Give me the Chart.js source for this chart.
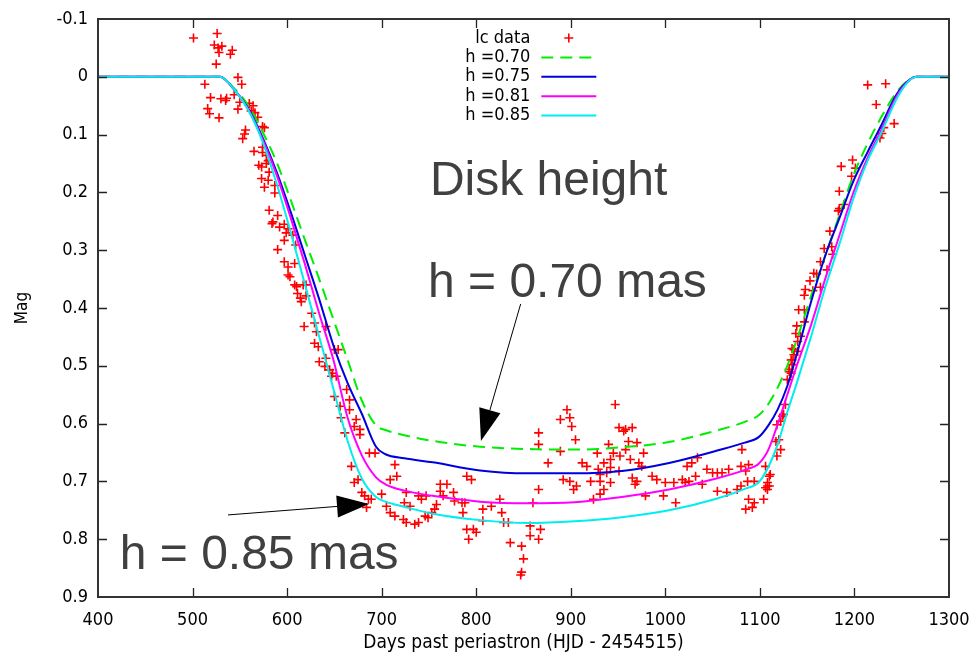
<!DOCTYPE html>
<html>
<head>
<meta charset="utf-8">
<script src="https://cdn.jsdelivr.net/npm/chart.js@4/dist/chart.umd.min.js"></script>
<style>
  html, body { margin: 0; padding: 0; background: #fff; }
</style>
</head>
<body>
<canvas id="chart" width="976" height="658"></canvas>
<script>
// model light curves, one shared day grid
const modelDays = [400, 529, 544, 559, 574, 589, 604, 619, 634, 649, 664, 679, 694, 704, 724, 754, 804, 854, 904, 954,
  1004, 1054, 1084, 1099, 1109, 1119, 1129, 1139, 1154, 1169, 1184, 1199, 1214, 1229, 1244, 1256, 1266, 1300];
const magH070 = [0, 0, 0.02, 0.05, 0.095, 0.148, 0.214, 0.283, 0.35, 0.42, 0.49, 0.56, 0.603, 0.611, 0.62, 0.63, 0.64, 0.644, 0.645, 0.641,
  0.632, 0.612, 0.597, 0.585, 0.566, 0.537, 0.5, 0.455, 0.38, 0.31, 0.24, 0.17, 0.115, 0.068, 0.028, 0.007, 0, 0];
const magH075 = [0, 0, 0.022, 0.055, 0.105, 0.165, 0.235, 0.31, 0.385, 0.465, 0.53, 0.583, 0.64, 0.653, 0.66, 0.667, 0.681, 0.686, 0.686, 0.682,
  0.668, 0.647, 0.633, 0.623, 0.603, 0.575, 0.535, 0.48, 0.39, 0.31, 0.245, 0.18, 0.13, 0.082, 0.032, 0.008, 0, 0];
const magH081 = [0, 0, 0.022, 0.056, 0.108, 0.17, 0.245, 0.325, 0.41, 0.49, 0.59, 0.655, 0.693, 0.705, 0.716, 0.725, 0.735, 0.738, 0.736, 0.727,
  0.714, 0.695, 0.68, 0.669, 0.645, 0.6, 0.55, 0.5, 0.43, 0.35, 0.275, 0.2, 0.14, 0.09, 0.036, 0.009, 0, 0];
const magH085 = [0, 0, 0.022, 0.058, 0.112, 0.185, 0.27, 0.36, 0.45, 0.54, 0.63, 0.695, 0.727, 0.735, 0.744, 0.756, 0.767, 0.772, 0.769, 0.762,
  0.75, 0.73, 0.713, 0.701, 0.675, 0.635, 0.58, 0.53, 0.45, 0.365, 0.29, 0.21, 0.145, 0.095, 0.04, 0.01, 0, 0];

const icDays = [
  501, 526, 523, 527, 531, 528, 542, 540, 525, 548, 552, 513, 519, 530, 535, 536, 516, 518, 528, 544,
  550, 548, 560, 564, 562, 566, 569, 556, 555, 553, 574, 576, 574, 565, 574, 578, 580, 570, 573, 578,
  581, 573, 580, 576, 587, 587, 581, 590, 585, 584, 592, 597, 601, 599, 597, 606, 609, 590, 597, 608,
  601, 601, 603, 608, 610, 617, 620, 611, 614, 620, 615,
  626, 629, 618, 631, 641, 629, 633, 650, 654, 634, 641, 640, 645, 647, 648, 652, 663, 650, 656, 666,
  666, 657, 673, 677, 661, 671, 677, 668, 675, 671, 679, 682, 686, 689, 684, 687, 693, 700, 714, 716,
  709, 705, 709, 714, 723, 726, 735, 739, 746, 749, 753, 724, 730, 726, 739, 742, 747, 762, 769, 762,
  765, 758, 756, 776, 777, 785, 786, 788, 790, 795, 790, 797, 792, 800, 807, 807, 816, 825, 827, 829,
  834, 836, 848, 850, 848, 847, 857, 857, 868, 866, 860, 866, 866, 866, 876, 889, 896, 899, 901, 905,
  889, 892, 899, 906, 903, 912, 917, 921, 924, 928,
  947, 951, 958, 965, 961, 970, 977, 956, 958, 940, 945, 952, 942, 935, 942, 929, 931, 938, 931, 942,
  935, 931, 951, 963, 972, 975, 965, 970, 968, 986, 991, 979, 998, 1011, 1000, 1009, 1018, 1021, 1025, 1023,
  1028, 1034, 1032, 1039, 1044, 1050, 1055, 1060, 1067, 1055, 1065, 1080, 1081, 1080, 1088, 1085, 1087, 1094, 1076, 1088,
  1094, 1085, 1092, 1104, 1106, 1108, 1108,
  1110, 1111, 1108, 1110, 1106, 1118, 1122, 1120, 1117, 1118, 1122, 1124, 1125, 1127, 1129, 1131, 1133, 1134, 1136, 1140,
  1214, 1233, 1223, 1242, 1231, 1229, 1227, 1198, 1201, 1186, 1197, 1184, 1189, 1184, 1183, 1174, 1168, 1176, 1177, 1164,
  1171, 1157, 1160, 1153, 1148, 1147, 1156, 1164, 1141, 1147, 1147, 1139, 1138, 1143, 1140, 1134, 1136, 1133, 1134, 1131
];
const icMags = [
  -0.067, -0.075, -0.055, -0.05, -0.053, -0.042, -0.046, -0.039, -0.022, 0.001, 0.013, 0.013, 0.036, 0.038, 0.041, 0.037, 0.055, 0.064, 0.071, 0.031,
  0.044, 0.056, 0.046, 0.05, 0.059, 0.062, 0.07, 0.092, 0.099, 0.107, 0.086, 0.088, 0.122, 0.129, 0.131, 0.136, 0.145, 0.153, 0.156, 0.15,
  0.165, 0.176, 0.179, 0.191, 0.188, 0.201, 0.231, 0.24, 0.251, 0.254, 0.26, 0.255, 0.263, 0.27, 0.283, 0.274, 0.291, 0.299, 0.32, 0.323,
  0.329, 0.343, 0.346, 0.36, 0.363, 0.36, 0.36, 0.375, 0.383, 0.379, 0.389,
  0.409, 0.426, 0.432, 0.441, 0.432, 0.461, 0.467, 0.472, 0.472, 0.493, 0.487, 0.501, 0.507, 0.518, 0.513, 0.518, 0.541, 0.553, 0.57, 0.559,
  0.576, 0.59, 0.593, 0.61, 0.616, 0.605, 0.619, 0.674, 0.697, 0.702, 0.719, 0.725, 0.731, 0.731, 0.745, 0.651, 0.651, 0.722, 0.671, 0.691,
  0.697, 0.743, 0.754, 0.76, 0.766, 0.771, 0.774, 0.771, 0.76, 0.763, 0.754, 0.737, 0.743, 0.719, 0.725, 0.731, 0.725, 0.705, 0.705, 0.717,
  0.725, 0.74, 0.748, 0.719, 0.734, 0.737, 0.754, 0.737, 0.691, 0.697, 0.783, 0.783, 0.8, 0.788, 0.748, 0.768, 0.743, 0.731, 0.754, 0.771,
  0.771, 0.806, 0.812, 0.834, 0.857, 0.862, 0.777, 0.794, 0.783, 0.8, 0.737, 0.714, 0.616, 0.636, 0.668, 0.593, 0.576, 0.59, 0.605, 0.628,
  0.648, 0.697, 0.7, 0.708, 0.714, 0.668, 0.674, 0.7, 0.731, 0.651,
  0.567, 0.607, 0.61, 0.607, 0.631, 0.633, 0.651, 0.613, 0.645, 0.636, 0.651, 0.656, 0.662, 0.668, 0.676, 0.679, 0.688, 0.685, 0.7, 0.702,
  0.714, 0.722, 0.682, 0.662, 0.668, 0.674, 0.694, 0.7, 0.705, 0.691, 0.697, 0.725, 0.725, 0.737, 0.702, 0.702, 0.697, 0.702, 0.7, 0.674,
  0.668, 0.659, 0.691, 0.705, 0.679, 0.685, 0.685, 0.685, 0.679, 0.717, 0.719, 0.708, 0.645, 0.674, 0.671, 0.682, 0.7, 0.7, 0.714, 0.731,
  0.737, 0.748, 0.745, 0.731, 0.674, 0.708, 0.714,
  0.691, 0.688, 0.702, 0.708, 0.711, 0.656, 0.645, 0.628, 0.631, 0.602, 0.596, 0.587, 0.584, 0.567, 0.524, 0.51, 0.513, 0.49, 0.481, 0.475,
  0.014, 0.012, 0.048, 0.081, 0.088, 0.098, 0.106, 0.144, 0.158, 0.155, 0.172, 0.198, 0.221, 0.228, 0.232, 0.267, 0.297, 0.294, 0.307, 0.32,
  0.334, 0.34, 0.341, 0.353, 0.368, 0.378, 0.37, 0.364, 0.403, 0.403, 0.424, 0.431, 0.444, 0.449, 0.458, 0.47, 0.472, 0.49, 0.498, 0.506
];

const seriesNames = ["lc data", "h =0.70", "h =0.75", "h =0.81", "h =0.85"];
const xTickValues = [400, 500, 600, 700, 800, 900, 1000, 1100, 1200, 1300];
const yTickValues = [-0.1, 0, 0.1, 0.2, 0.3, 0.4, 0.5, 0.6, 0.7, 0.8, 0.9];
const yTickLabels = ["-0.1", "0", "0.1", "0.2", "0.3", "0.4", "0.5", "0.6", "0.7", "0.8", "0.9"];

const GNU_FONT = "'DejaVu Sans Condensed', 'DejaVu Sans', sans-serif";
const lineColors = ["#00ee00", "#0000dd", "#ff00ff", "#00eeee"];

function pts(xs, ys) {
  return xs.map((x, i) => ({ x: x, y: ys[i] }));
}

// inward ticks on all four sides + frame, gnuplot style
const frameTicks = {
  id: "frameTicks",
  afterDatasetsDraw(chart) {
    const { ctx, chartArea: a, scales: { x, y } } = chart;
    const len = 9;
    ctx.save();
    ctx.strokeStyle = "#222";
    ctx.lineWidth = 1.3;
    ctx.beginPath();
    x.ticks.forEach(t => {
      const px = Math.round(x.getPixelForValue(t.value)) + 0.5;
      if (px < a.left + 2 || px > a.right - 2) return;
      ctx.moveTo(px, a.bottom); ctx.lineTo(px, a.bottom - len);
      ctx.moveTo(px, a.top); ctx.lineTo(px, a.top + len);
    });
    y.ticks.forEach(t => {
      const py = Math.round(y.getPixelForValue(t.value)) + 0.5;
      if (py < a.top + 2 || py > a.bottom - 2) return;
      ctx.moveTo(a.left, py); ctx.lineTo(a.left + len, py);
      ctx.moveTo(a.right, py); ctx.lineTo(a.right - len, py);
    });
    ctx.stroke();
    ctx.lineWidth = 2;
    ctx.strokeStyle = "#333";
    ctx.strokeRect(a.left, a.top, a.right - a.left, a.bottom - a.top);
    ctx.restore();
  }
};

// key in the top middle of the plot
const gnuKey = {
  id: "gnuKey",
  afterDraw(chart) {
    const { ctx, chartArea: a } = chart;
    const textRight = a.left + 0.508 * (a.right - a.left);
    const x0 = textRight + 11, x1 = textRight + 66;
    ctx.save();
    ctx.font = "18px " + GNU_FONT;
    ctx.fillStyle = "#000";
    ctx.textAlign = "right";
    ctx.textBaseline = "middle";
    seriesNames.forEach((name, i) => {
      const yy = a.top + 19 + i * 19.4;
      ctx.fillText(name, textRight, yy);
      if (i === 0) {
        ctx.strokeStyle = "#ff0000";
        ctx.lineWidth = 1.6;
        const cx = (x0 + x1) / 2;
        ctx.beginPath();
        ctx.moveTo(cx - 4.5, yy); ctx.lineTo(cx + 4.5, yy);
        ctx.moveTo(cx, yy - 4.5); ctx.lineTo(cx, yy + 4.5);
        ctx.stroke();
      } else {
        ctx.strokeStyle = lineColors[i - 1];
        ctx.lineWidth = 2;
        ctx.setLineDash(i === 1 ? [12, 7] : []);
        ctx.beginPath();
        ctx.moveTo(x0, yy); ctx.lineTo(x1, yy);
        ctx.stroke();
        ctx.setLineDash([]);
      }
    });
    ctx.restore();
  }
};

// slide annotations, anchored in data coordinates
const notes = [
  { text: "Disk height", day: 751, mag: 0.2045 },
  { text: "h = 0.70 mas", day: 749, mag: 0.381 },
  { text: "h = 0.85 mas", day: 423, mag: 0.852 }
];
const arrows = [
  { fromDay: 847, fromMag: 0.393, toDay: 805, toMag: 0.63 },
  { fromDay: 537.5, fromMag: 0.758, toDay: 686.6, toMag: 0.739 }
];

const slideNotes = {
  id: "slideNotes",
  afterDraw(chart) {
    const { ctx, scales: { x, y } } = chart;
    ctx.save();
    ctx.font = "48px 'Liberation Sans', Arial, sans-serif";
    ctx.fillStyle = "#404040";
    ctx.textAlign = "left";
    ctx.textBaseline = "alphabetic";
    notes.forEach(n => ctx.fillText(n.text, x.getPixelForValue(n.day), y.getPixelForValue(n.mag)));

    ctx.strokeStyle = "#000";
    ctx.fillStyle = "#000";
    ctx.lineWidth = 1;
    arrows.forEach(a => {
      const x0 = x.getPixelForValue(a.fromDay), y0 = y.getPixelForValue(a.fromMag);
      const x1 = x.getPixelForValue(a.toDay), y1 = y.getPixelForValue(a.toMag);
      const ang = Math.atan2(y1 - y0, x1 - x0);
      const hl = 32, hw = 11;
      const bx = x1 - hl * Math.cos(ang), by = y1 - hl * Math.sin(ang);
      ctx.beginPath();
      ctx.moveTo(x0, y0); ctx.lineTo(bx, by);
      ctx.stroke();
      ctx.beginPath();
      ctx.moveTo(x1, y1);
      ctx.lineTo(bx + hw * Math.sin(ang), by - hw * Math.cos(ang));
      ctx.lineTo(bx - hw * Math.sin(ang), by + hw * Math.cos(ang));
      ctx.closePath();
      ctx.fill();
    });
    ctx.restore();
  }
};

const modelMags = [magH070, magH075, magH081, magH085];

new Chart(document.getElementById("chart"), {
  type: "scatter",
  data: {
    datasets: [
      {
        label: seriesNames[0],
        data: pts(icDays, icMags),
        showLine: false,
        pointStyle: "cross",
        pointRadius: 4.5,
        pointBorderWidth: 1.6,
        borderColor: "#ff0000",
        backgroundColor: "#ff0000",
        order: 5
      },
      ...modelMags.map((m, i) => ({
        label: seriesNames[i + 1],
        data: pts(modelDays, m),
        showLine: true,
        pointRadius: 0,
        borderColor: lineColors[i],
        borderWidth: 2,
        borderDash: i === 0 ? [12, 7] : [],
        cubicInterpolationMode: "monotone",
        order: 4 - i
      }))
    ]
  },
  options: {
    responsive: false,
    animation: false,
    devicePixelRatio: 1,
    layout: { padding: { top: 19, right: 27, left: 0, bottom: 0 } },
    plugins: {
      legend: { display: false },
      tooltip: { enabled: false }
    },
    scales: {
      x: {
        type: "linear",
        min: 400,
        max: 1300,
        afterBuildTicks: s => { s.ticks = xTickValues.map(v => ({ value: v })); },
        afterFit: s => { s.height = 61; },
        grid: { display: false },
        border: { display: false },
        ticks: {
          color: "#000",
          font: { family: GNU_FONT, size: 18 },
          padding: 5,
          maxRotation: 0,
          autoSkip: false,
          callback: v => String(v)
        },
        title: {
          display: true,
          text: "Days past periastron (HJD - 2454515)",
          color: "#000",
          font: { family: GNU_FONT, size: 19 },
          padding: { top: 0, bottom: 4 }
        }
      },
      y: {
        type: "linear",
        reverse: true,
        min: -0.1,
        max: 0.9,
        afterBuildTicks: s => { s.ticks = yTickValues.map(v => ({ value: v })); },
        afterFit: s => { s.width = 98; },
        grid: { display: false },
        border: { display: false },
        ticks: {
          color: "#000",
          font: { family: GNU_FONT, size: 18 },
          padding: 2,
          autoSkip: false,
          callback: (v, i) => yTickLabels[i]
        },
        title: {
          display: true,
          text: "Mag",
          color: "#000",
          font: { family: GNU_FONT, size: 17 },
          padding: { top: 12, bottom: 0 }
        }
      }
    }
  },
  plugins: [frameTicks, gnuKey, slideNotes]
});
</script>
</body>
</html>
